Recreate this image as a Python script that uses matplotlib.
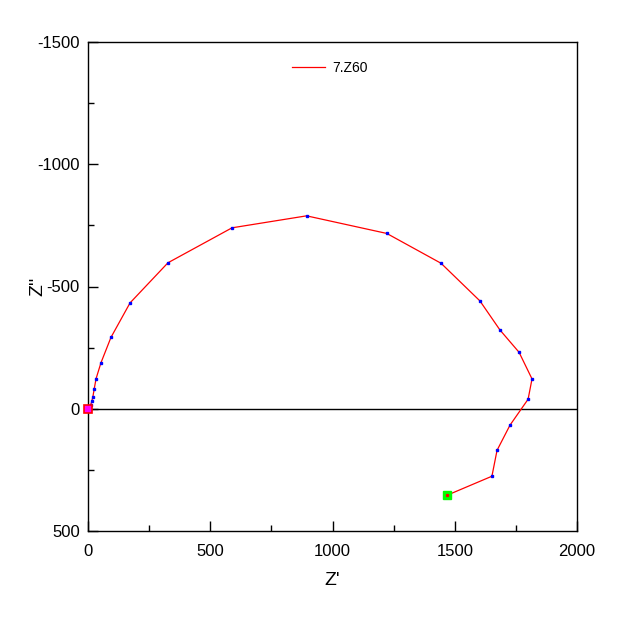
import matplotlib
matplotlib.use("Agg")
import matplotlib.pyplot as plt
from matplotlib.ticker import MultipleLocator

plt.rcParams["font.family"] = ["Liberation Sans", "DejaVu Sans"]
plt.rcParams["axes.unicode_minus"] = False

# impedance data
z_real = [0, 11, 16, 20, 25, 33, 53, 94, 172, 327, 589, 894, 1222, 1444,
          1603, 1685, 1763, 1816, 1800, 1726, 1673, 1652, 1468]
z_imag = [0, -16, -33, -49, -79, -123, -188, -292, -433, -597, -740, -789, -717, -595,
          -441, -322, -231, -122, -39, 67, 170, 276, 354]
series_name = "7.Z60"

fig = plt.figure(figsize=(6.39, 6.17), dpi=100)
ax = fig.add_axes([88 / 639, 1 - 531 / 617, 489 / 639, 489 / 617])

ax.axhline(0, color="black", lw=1.0, zorder=1)
ax.plot(z_real, z_imag, color="red", lw=0.9, label=series_name, zorder=2)
ax.plot(z_real, z_imag, ls="none", marker="s", ms=1.5, color="blue", zorder=3)

# start and end markers
ax.plot(z_real[0], z_imag[0], marker="s", ms=5.5, mfc="magenta", mec="red", mew=1.2,
        zorder=4, clip_on=False)
ax.plot(z_real[-1], z_imag[-1], marker="s", ms=5.8, mfc="lime", mec="lime", zorder=4)
ax.plot(z_real[-1], z_imag[-1], marker="s", ms=1.3, color="red", zorder=5)

ax.set_xlim(0, 2000)
ax.set_ylim(500, -1500)

ax.xaxis.set_major_locator(MultipleLocator(500))
ax.xaxis.set_minor_locator(MultipleLocator(250))
ax.yaxis.set_major_locator(MultipleLocator(500))
ax.yaxis.set_minor_locator(MultipleLocator(250))
ax.tick_params(which="both", direction="in", top=False, right=False, width=1.0)
ax.tick_params(which="major", length=7, labelsize=12)
ax.tick_params(which="minor", length=4.5)
ax.tick_params(axis="x", pad=9)
ax.tick_params(axis="y", pad=6)

for sp in ax.spines.values():
    sp.set_linewidth(1.0)

ax.set_xlabel("Z'", fontsize=14, labelpad=10)
ax.set_ylabel("Z''", fontsize=14, labelpad=-6.5)

ax.legend(loc="upper left", bbox_to_anchor=(0.405, 0.973), frameon=False,
          fontsize=10, handlelength=2.4, handletextpad=0.5, borderaxespad=0)

fig.savefig("out.png", dpi=100)
